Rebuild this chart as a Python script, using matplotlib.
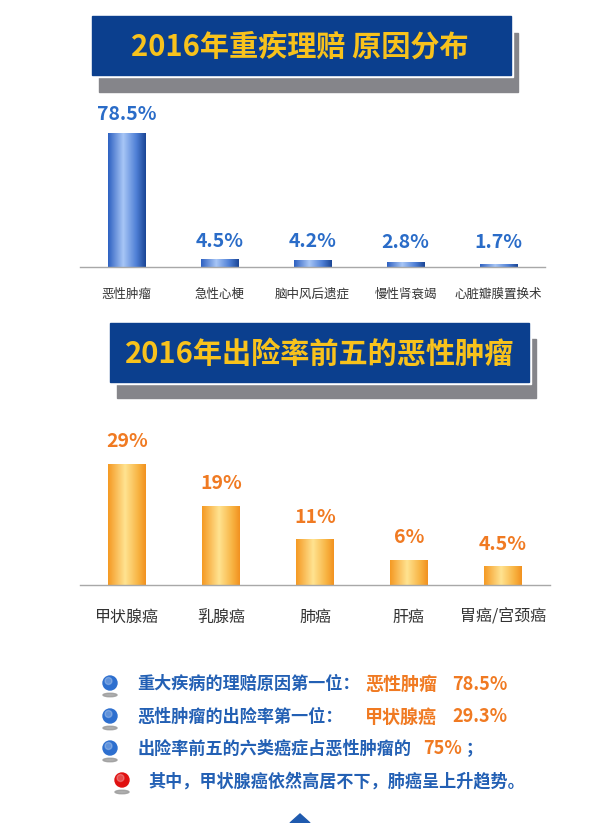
import numpy as np
import matplotlib
matplotlib.use('Agg')
import matplotlib.pyplot as plt
from matplotlib.patches import Rectangle, Ellipse, Circle, Polygon

plt.rcParams['font.family'] = ['Noto Sans CJK SC', 'DejaVu Sans']

# data
claim_causes = ['恶性肿瘤', '急性心梗', '脑中风后遗症', '慢性肾衰竭', '心脏瓣膜置换术']
claim_share = [78.5, 4.5, 4.2, 2.8, 1.7]
claim_labels = ['78.5%', '4.5%', '4.2%', '2.8%', '1.7%']

cancers = ['甲状腺癌', '乳腺癌', '肺癌', '肝癌', '胃癌/宫颈癌']
cancer_share = [29, 19, 11, 6, 4.5]
cancer_labels = ['29%', '19%', '11%', '6%', '4.5%']

title_top = '2016年重疾理赔 原因分布'
title_bottom = '2016年出险率前五的恶性肿瘤'

W, H = 600, 823
fig = plt.figure(figsize=(W / 100, H / 100), dpi=100)
fig.patch.set_facecolor('white')

BANNER = '#0B3F8E'
YELLOW = '#F8C21C'
SHADOW = '#85858A'
BLUE_TXT = '#2A6CC8'
ORANGE_TXT = '#F07A22'
BODY_BLUE = '#2360B4'


def px_axes(left, top, right, bottom):
    return fig.add_axes([left / W, 1 - bottom / H, (right - left) / W, (bottom - top) / H])


def gradient(stops, n=64):
    pos = np.array([s[0] for s in stops])
    cols = np.array([matplotlib.colors.to_rgb(s[1]) for s in stops])
    t = np.linspace(0, 1, n)
    rgb = np.stack([np.interp(t, pos, cols[:, k]) for k in range(3)], axis=-1)
    return rgb[np.newaxis, :, :]


blue_grad = gradient([(0, '#2F62C2'), (0.4, '#A8C6F6'), (0.75, '#4F80D6'), (1, '#1B4696')])
orange_grad = gradient([(0, '#F59A24'), (0.45, '#FFE391'), (0.8, '#F8B443'), (1, '#F29220')])


def bar_chart(ax, cats, vals, labels, ymax, grad, label_color, label_size, cat_size, pad,
              offset, min_offset=0):
    ax.set_xlim(-0.5, 4.5)
    ax.set_ylim(0, ymax)
    bars = ax.bar(range(len(vals)), vals, width=0.404, color='none', edgecolor='none')
    for b in bars:
        x0, w, h = b.get_x(), b.get_width(), b.get_height()
        im = ax.imshow(grad, extent=(x0, x0 + w, 0, h), aspect='auto', zorder=2)
        im.set_clip_path(b)
    ax.set_xlim(-0.5, 4.5)
    ax.set_ylim(0, ymax)
    ax_h = ax.get_position().height * H
    for i, (v, lab) in enumerate(zip(vals, labels)):
        bar_px = v / ymax * ax_h
        if bar_px + offset < min_offset:
            # short bars: labels sit on a common line
            ax.annotate(lab, (i, 0), xytext=(0, min_offset), textcoords='offset pixels',
                        ha='center', va='center', fontsize=label_size,
                        fontweight='bold', color=label_color)
        else:
            ax.annotate(lab, (i, v), xytext=(0, offset), textcoords='offset pixels',
                        ha='center', va='center', fontsize=label_size,
                        fontweight='bold', color=label_color)
    ax.set_xticks(range(len(cats)))
    ax.set_xticklabels(cats, fontsize=cat_size, color='#333333')
    ax.tick_params(axis='x', length=0, pad=pad)
    ax.set_yticks([])
    for s in ['top', 'left', 'right']:
        ax.spines[s].set_visible(False)
    ax.spines['bottom'].set_color('#A8A8A8')
    ax.spines['bottom'].set_linewidth(1.0)
    ax.set_facecolor('none')


# top bar chart
ax1 = px_axes(80, 100, 545, 267)
bar_chart(ax1, claim_causes, claim_share, claim_labels, 167 / 134 * 78.5,
          blue_grad, BLUE_TXT, 14, 9, 15, 18, min_offset=25)

# bottom bar chart
ax2 = px_axes(80, 430, 550, 585)
bar_chart(ax2, cancers, cancer_share, cancer_labels, 155 / 121 * 29,
          orange_grad, ORANGE_TXT, 14, 11.5, 17, 22)

# overlay for banners and notes
ov = fig.add_axes([0, 0, 1, 1], zorder=-1)
ov.set_xlim(0, W)
ov.set_ylim(H, 0)
ov.axis('off')


def banner(x0, y0, x1, y1, dx, dy, text, cx):
    ov.add_patch(Rectangle((x0 + dx, y0 + dy), x1 - x0, y1 - y0, color=SHADOW, zorder=1))
    ov.add_patch(Rectangle((x0 - 2, y0 - 2), x1 - x0 + 4, y1 - y0 + 4, color='white', zorder=2))
    ov.add_patch(Rectangle((x0, y0), x1 - x0, y1 - y0, color=BANNER, zorder=3))
    ov.text(cx, (y0 + y1) / 2 + 1, text, ha='center', va='center', fontsize=21,
            fontweight='bold', color=YELLOW, zorder=4)


banner(92, 16, 511, 75, 7, 17, title_top, 300)
banner(110, 323, 529, 382, 7, 16, title_bottom, 320)


def bullet(x, y, color):
    ov.add_patch(Ellipse((x, y + 12), 14, 3.5, color='#9A9A9A', alpha=0.8, zorder=2))
    ov.add_patch(Circle((x, y), 7, color=color, zorder=3))
    ov.add_patch(Circle((x - 1.5, y - 2), 3.5, color='white', alpha=0.25, zorder=4))


bullet(110, 683, '#2D6FCF')
bullet(110, 716, '#2D6FCF')
bullet(110, 748, '#2D6FCF')
bullet(122, 780, '#E01010')

fs = 12.3
ov.text(137, 684, '重大疾病的理赔原因第一位：', ha='left', va='center', fontsize=fs,
        fontweight='bold', color=BODY_BLUE)
ov.text(365, 684, '恶性肿瘤', ha='left', va='center', fontsize=13,
        fontweight='bold', color=ORANGE_TXT)
ov.text(452, 684, '78.5%', ha='left', va='center', fontsize=13,
        fontweight='bold', color=ORANGE_TXT)

ov.text(137, 717, '恶性肿瘤的出险率第一位：', ha='left', va='center', fontsize=fs,
        fontweight='bold', color=BODY_BLUE)
ov.text(365, 717, '甲状腺癌', ha='left', va='center', fontsize=13,
        fontweight='bold', color=ORANGE_TXT)
ov.text(452, 717, '29.3%', ha='left', va='center', fontsize=13,
        fontweight='bold', color=ORANGE_TXT)

ov.text(138, 749, '出险率前五的六类癌症占恶性肿瘤的', ha='left', va='center', fontsize=fs,
        fontweight='bold', color=BODY_BLUE)
ov.text(423, 749, '75%', ha='left', va='center', fontsize=13,
        fontweight='bold', color=ORANGE_TXT)
ov.text(466, 749, '；', ha='left', va='center', fontsize=fs,
        fontweight='bold', color=BODY_BLUE)

ov.text(148, 781, '其中，甲状腺癌依然高居不下，肺癌呈上升趋势。', ha='left', va='center',
        fontsize=fs, fontweight='bold', color=BODY_BLUE)

# small marker at the bottom edge
ov.add_patch(Polygon([[290, 823], [300, 814], [310, 823]], closed=True,
                     color='#1F5AAE', zorder=3))

fig.savefig('out.png', dpi=100)
